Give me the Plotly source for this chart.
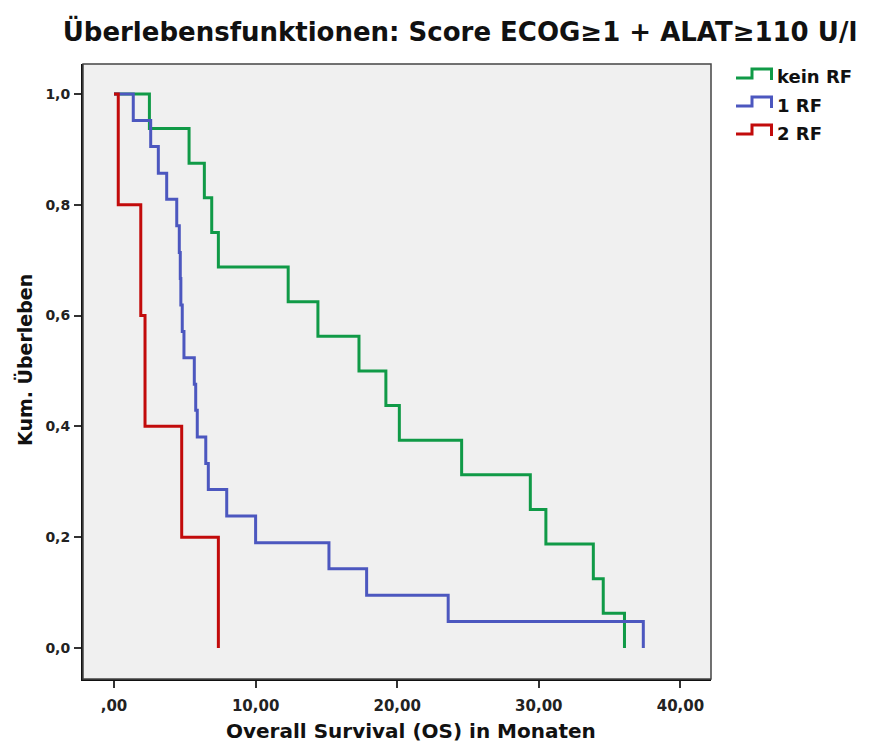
import plotly.graph_objects as go

# ---- data ----
groups = ["kein RF", "1 RF", "2 RF"]
colors = ["#109a47", "#4c57bf", "#c20b0b"]

green_times = [2.5, 5.3, 6.38, 6.9, 7.37, 12.3, 14.4, 17.3, 19.2, 20.15, 24.55,
               29.4, 30.5, 33.85, 34.55, 36.05]
green_surv = [0.9375, 0.875, 0.8125, 0.75, 0.6875, 0.625, 0.5625, 0.5, 0.4375,
              0.375, 0.3125, 0.25, 0.1875, 0.125, 0.0625, 0.0]

blue_times = [1.36, 2.59, 3.13, 3.72, 4.43, 4.61, 4.68, 4.72, 4.82, 4.94, 5.67,
              5.77, 5.88, 6.48, 6.66, 7.96, 10.0, 15.18, 17.84, 23.6, 37.38]
blue_surv = [0.952, 0.905, 0.857, 0.810, 0.762, 0.714, 0.667, 0.619, 0.571,
             0.524, 0.476, 0.429, 0.381, 0.333, 0.286, 0.238, 0.190, 0.143,
             0.095, 0.048, 0.0]

red_times = [0.3, 1.89, 2.19, 4.78, 7.37]
red_surv = [0.8, 0.6, 0.4, 0.2, 0.0]

x_ticks = [0, 10, 20, 30, 40]
x_tick_labels = [",00", "10,00", "20,00", "30,00", "40,00"]
y_ticks = [0.0, 0.2, 0.4, 0.6, 0.8, 1.0]
y_tick_labels = ["0,0", "0,2", "0,4", "0,6", "0,8", "1,0"]

title = "Überlebensfunktionen: Score ECOG≥1 + ALAT≥110 U/l"
x_title = "Overall Survival (OS) in Monaten"
y_title = "Kum. Überleben"

FONT = "DejaVu Sans, Verdana, sans-serif"

# page is rendered with an 8px body margin; work in page pixels and offset
OFF = 8
W, H = 887 - OFF, 743 - OFF
ml, mt = 83 - OFF, 64 - OFF
pw, ph = 711 - 83, 679 - 64
mr, mb = W - ml - pw, H - mt - ph

def px2paper(x, y):
    return (x - OFF - ml) / pw, (mt + ph - (y - OFF)) / ph

fig = go.Figure()
series = [(green_times, green_surv), (blue_times, blue_surv), (red_times, red_surv)]
for name, color, (t, s) in zip(groups, colors, series):
    fig.add_trace(go.Scatter(
        x=[0] + t, y=[1.0] + s, mode="lines", name=name,
        line=dict(color=color, width=3, shape="hv"),
        showlegend=False, hoverinfo="skip",
    ))

shapes = []
annotations = []
row_y = [78, 106, 134]
for i, (name, color) in enumerate(zip(groups, colors)):
    yb = row_y[i]
    pts = [(736, yb), (752, yb), (752, yb - 9), (771.5, yb - 9), (771.5, yb + 2)]
    path = ""
    for j, (px, py) in enumerate(pts):
        xx, yy = px2paper(px, py)
        path += ("M" if j == 0 else "L") + f"{xx:.5f},{yy:.5f} "
    shapes.append(dict(type="path", xref="paper", yref="paper", path=path,
                       line=dict(color=color, width=3)))
    tx, ty = px2paper(775, yb - 1)
    annotations.append(dict(x=tx, y=ty, xref="paper", yref="paper", text=name,
                            showarrow=False, xanchor="left", yanchor="middle",
                            font=dict(family=FONT, size=18, color="#111", weight="bold")))

# axis titles as annotations (placed as in the reference)
ax, ay = px2paper(411, 731)
annotations.append(dict(x=ax, y=ay, xref="paper", yref="paper", text=x_title,
                        showarrow=False, xanchor="center", yanchor="middle",
                        font=dict(family=FONT, size=20, color="#111", weight="bold")))
bx, by = px2paper(24, 360)
annotations.append(dict(x=bx, y=by, xref="paper", yref="paper", text=y_title,
                        showarrow=False, xanchor="center", yanchor="middle", textangle=-90,
                        font=dict(family=FONT, size=19, color="#111", weight="bold")))

# frame (top/right)
shapes.append(dict(type="rect", xref="paper", yref="paper", x0=0, y0=0, x1=1, y1=1,
                   line=dict(color="#444", width=1.5), layer="above"))

fig.update_layout(
    width=W, height=H,
    margin=dict(l=ml, r=mr, t=mt, b=mb, autoexpand=False),
    paper_bgcolor="white", plot_bgcolor="#f0f0f0",
    title=dict(text=title, x=(460 - OFF) / W, xanchor="center",
               y=1 - (32 - OFF) / H, yanchor="middle",
               font=dict(family=FONT, size=26, color="#111", weight="bold")),
    shapes=shapes, annotations=annotations,
    showlegend=False,
)
fig.update_xaxes(
    range=[-2.19, 42.16], tickvals=x_ticks, ticktext=x_tick_labels,
    showgrid=False, zeroline=False, showline=True, linecolor="#111", linewidth=2,
    ticks="outside", ticklen=7, tickwidth=2, tickcolor="#333",
    ticklabelstandoff=5, automargin=False,
    tickfont=dict(family=FONT, size=15, color="#222", weight="bold"),
)
fig.update_yaxes(
    range=[-0.056, 1.054], tickvals=y_ticks, ticktext=y_tick_labels,
    showgrid=False, zeroline=False, showline=True, linecolor="#111", linewidth=2,
    ticks="outside", ticklen=7, tickwidth=2, tickcolor="#333",
    ticklabelstandoff=1, automargin=False,
    tickfont=dict(family=FONT, size=14, color="#222", weight="bold"),
)

fig.write_html("out.html")
